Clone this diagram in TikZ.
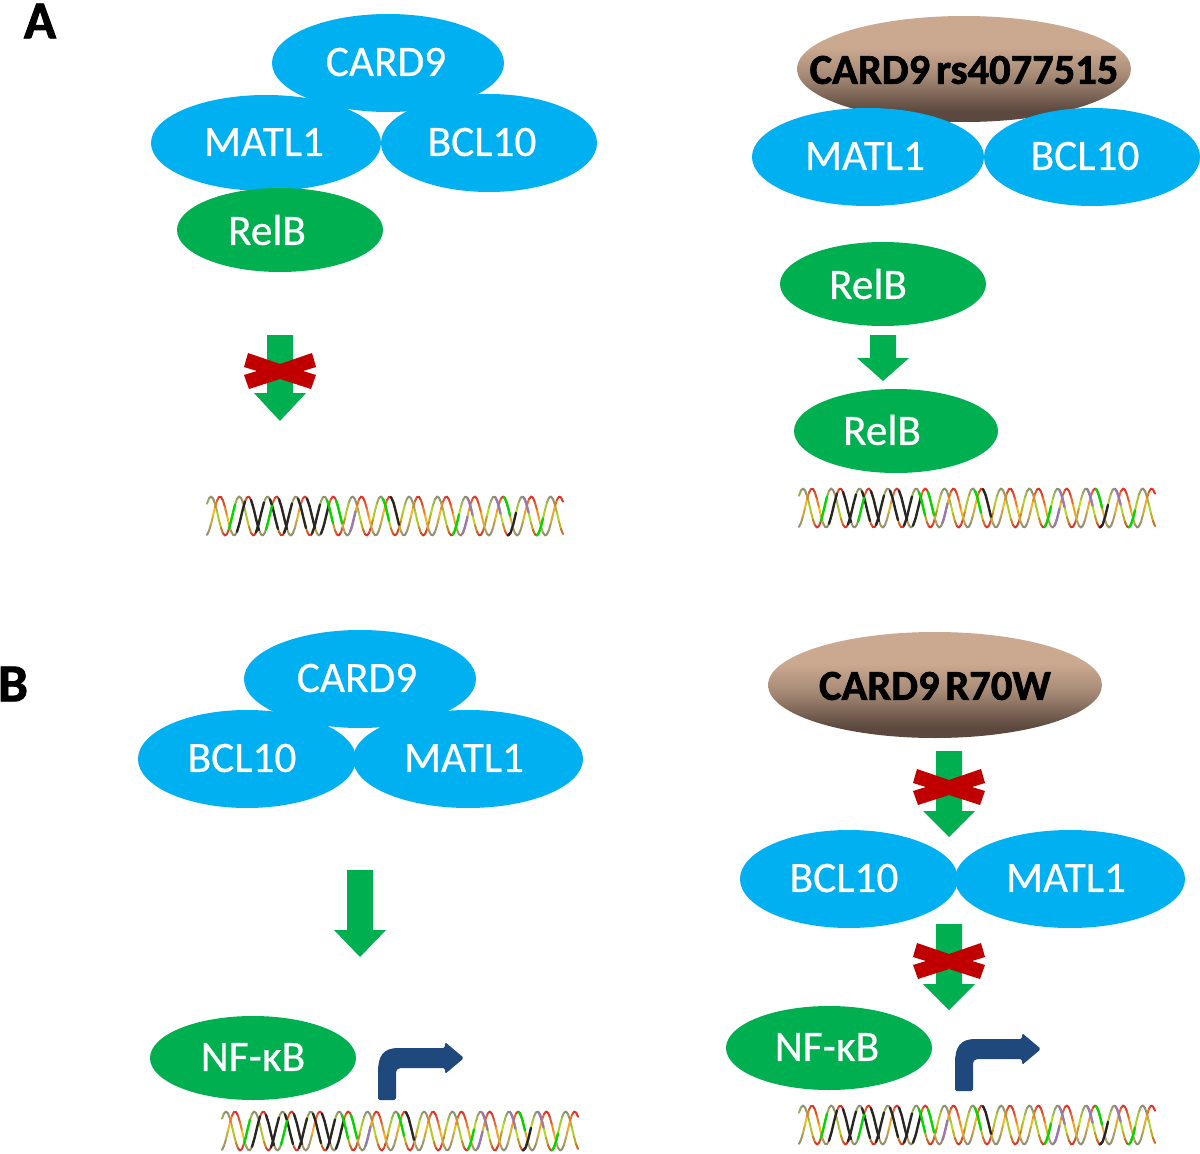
\documentclass[tikz,border=0pt]{standalone}
\usepackage{fontspec}
\usetikzlibrary{shapes.geometric}
\setmainfont{Carlito}
\newfontfamily\heavyfont[BoldFeatures={FakeBold=1.6}]{Carlito}
\newfontfamily\ovalfont[FakeBold=0.5]{Carlito}
\definecolor{ovalblue}{HTML}{00B0F0}
\definecolor{ovalgreen}{HTML}{00B050}
\definecolor{crossred}{HTML}{C00000}
\definecolor{bentblue}{HTML}{1F497D}
\definecolor{dnared}{HTML}{DC2F2A}
\definecolor{dnaorange}{HTML}{F9B91E}
\definecolor{dnaolive}{HTML}{8C8C78}
\definecolor{dnalime}{HTML}{B4E020}
\definecolor{dnapurple}{HTML}{9A78B0}
\definecolor{mutdark}{HTML}{5C483E}
\definecolor{mutmid}{HTML}{A68A76}
\definecolor{mutlight}{HTML}{CBA890}
\pgfdeclareverticalshading{mutantfade}{100bp}{
  color(0bp)=(mutdark);
  color(30bp)=(mutdark);
  color(47bp)=(mutmid);
  color(60bp)=(mutlight);
  color(100bp)=(mutlight)}
\tikzset{
  px/.style={x=0.6pt,y=-0.6pt},
  oval/.style={ellipse,inner sep=0pt,outer sep=0pt},
  wildtype/.style={oval,fill=ovalblue},
  factor/.style={oval,fill=ovalgreen},
  mutant/.style={oval,shading=mutantfade},
  ovaltext/.style={text=white,yshift=0.6pt,font=\ovalfont\fontsize{26}{30}\selectfont,inner sep=0pt},
  mutanttext/.style={text=black,font=\heavyfont\bfseries\fontsize{25.5}{30}\selectfont,inner sep=0pt},
  paneltag/.style={text=black,font=\heavyfont\bfseries\fontsize{32}{34}\selectfont,inner sep=0pt},
  flow/.style={fill=ovalgreen},
  blockcross/.style={fill=crossred},
  strandline/.style={line width=1.2pt,line cap=round},
  basepair/.style={line width=1.4pt,line cap=round}
}
% ellipse: style, name, centre x, y, radius x, y
\newcommand\ovalshape[6]{\node[#1,minimum width=#5*1.2pt,minimum height=#6*1.2pt] (#2) at (#3,#4) {};}
% block arrow: centre x, top, neck, tip
\newcommand\blockarrow[4]{\fill[flow] (#1-13,#2) -- (#1+13,#2) -- (#1+13,#3) -- (#1+26,#3) -- (#1,#4) -- (#1-26,#3) -- (#1-13,#3) -- cycle;}
% red cross centred on x, y
\newcommand\redcross[2]{\begin{scope}[shift={(#1,#2)}]
  \fill[blockcross] (-32,-18) -- (0,-7) -- (32,-18) -- (36,-4) -- (23,0) -- (36,4) -- (31,18) -- (0,8) -- (-31,18) -- (-36,4) -- (-23,0) -- (-36,-4) -- cycle;
\end{scope}}
% bent promoter arrow: left edge of the stem x, foot y, shaft centre y
\newcommand\bentarrow[3]{\begin{scope}[shift={(#1,#3)}]
  \fill[bentblue,rounded corners=1pt] (0,#2-#3) -- (0,16) .. controls (0,-2) and (5,-10) .. (22,-10) -- (67,-10) -- (67,-16) -- (86,0) -- (67,16) -- (67,10) -- (24,10) .. controls (20,10) and (18,12) .. (18,17) -- (18,#2-#3) -- cycle;
\end{scope}}
% one strand of the helix, coloured by height; crest offset, crest, middle and trough colours
\newcommand\strandwave[4]{%
  \foreach \k in {0,...,177}{%
    \pgfmathsetmacro\xa{2*\k}%
    \pgfmathsetmacro\xb{2*\k+2}%
    \pgfmathsetmacro\ya{cos(12.72*(\xa-#1))}%
    \pgfmathsetmacro\yb{cos(12.72*(\xb-#1))}%
    \pgfmathtruncatemacro\pct{100*abs(\ya)}%
    \pgfmathtruncatemacro\upper{\ya>0?1:0}%
    \ifnum\upper=1 \colorlet{segcol}{#2!\pct!#3}\else\colorlet{segcol}{#4!\pct!#3}\fi
    \draw[strandline,segcol] (\xa,21-19.5*\ya) -- (\xb,21-19.5*\yb);
  }}
% short stretch laid on a strand; colour, half length, list of centre/crest offset
\newcommand\strandmarks[3]{%
  \foreach \ptx/\off in {#3}{%
    \pgfmathsetmacro\lo{\ptx-#2}%
    \pgfmathsetmacro\hi{\ptx+#2}%
    \draw[basepair,#1] plot[domain=\lo:\hi,samples=4] (\x,{21-19.5*cos(12.72*(\x-\off))});
  }}
% double helix with its marked stretches; top left corner x, y
\newcommand\helix[2]{\begin{scope}[shift={(#1,#2)}]
  \strandwave{4}{dnaolive}{dnalime}{dnared}
  \strandwave{13}{dnared}{dnaorange}{dnaolive}
  \strandmarks{black!85}{4}{34/13,48/13,76/13,104/13,118/13,188/13,53/4,67/4,81/4,95/4,109/4,305/4}
  \strandmarks{dnapurple}{2.5}{146/13,258/13,263/4,291/4,319/4}
  \strandmarks{green!85!black}{3}{62/13,132/13,300/13,25/4,123/4,179/4,249/4,333/4}
\end{scope}}
\begin{document}
\begin{tikzpicture}[px]
\useasboundingbox (0,0) rectangle (1200,1154);
\fill[white] (0,0) rectangle (1200,1154);

% Panel A, left column
\node[paneltag] (tagA) at (40,21) {A};
\ovalshape{wildtype}{aCard}{388}{63}{116}{49}
\ovalshape{wildtype}{aMalt}{266}{143}{115}{48}
\ovalshape{wildtype}{aBcl}{489}{143}{108}{49}
\ovalshape{factor}{aRel}{280}{230}{103}{42}
\node[ovaltext] (aCardT) at (386,63) {CARD9};
\node[ovaltext] (aMaltT) at (264,143) {MATL1};
\node[ovaltext] (aBclT) at (482,143) {BCL10};
\node[ovaltext] (aRelT) at (267,231) {RelB};
\blockarrow{280}{335}{393}{421}
\redcross{280}{371}
\helix{207}{495}

% Panel A, right column
\ovalshape{mutant}{arVar}{964}{69}{167}{53}
\ovalshape{wildtype}{arMalt}{868}{157}{116}{49}
\ovalshape{wildtype}{arBcl}{1092}{157}{108}{49}
\ovalshape{factor}{arRelA}{883}{284}{103}{42}
\ovalshape{factor}{arRelB}{896}{431}{102}{42}
\node[mutanttext] (arVarT) at (964,70) {CARD9\kern3.5pt rs4077515};
\node[ovaltext] (arMaltT) at (865,157) {MATL1};
\node[ovaltext] (arBclT) at (1085,157) {BCL10};
\node[ovaltext] (arRelAT) at (868,285) {RelB};
\node[ovaltext] (arRelBT) at (882,431) {RelB};
\blockarrow{883}{335}{358}{381}
\helix{799}{487}

% Panel B, left column
\node[paneltag] (tagB) at (13,684) {B};
\ovalshape{wildtype}{bCard}{360}{679}{116}{49}
\ovalshape{wildtype}{bBcl}{247}{759}{109}{49}
\ovalshape{wildtype}{bMalt}{468}{759}{115}{49}
\ovalshape{factor}{bNf}{253}{1058}{103}{42}
\node[ovaltext] (bCardT) at (357,679) {CARD9};
\node[ovaltext] (bBclT) at (242,759) {BCL10};
\node[ovaltext] (bMaltT) at (464,759) {MATL1};
\node[ovaltext] (bNfT) at (253,1058) {NF-κB};
\blockarrow{360}{870}{930}{957}
\bentarrow{378}{1100}{1058}
\helix{222}{1110}

% Panel B, right column
\ovalshape{mutant}{brVar}{935}{685}{167}{53}
\ovalshape{wildtype}{brBcl}{849}{879}{109}{49}
\ovalshape{wildtype}{brMalt}{1070}{879}{115}{49}
\ovalshape{factor}{brNf}{829}{1048}{103}{42}
\node[mutanttext] (brVarT) at (935,686) {CARD9\kern3.5pt R70W};
\node[ovaltext] (brBclT) at (844,879) {BCL10};
\node[ovaltext] (brMaltT) at (1066,879) {MATL1};
\node[ovaltext] (brNfT) at (827,1048) {NF-κB};
\blockarrow{949}{751}{811}{837}
\redcross{949}{787}
\blockarrow{949}{924}{984}{1010}
\redcross{949}{961}
\bentarrow{955}{1091}{1049}
\helix{799}{1104}
\end{tikzpicture}
\end{document}
